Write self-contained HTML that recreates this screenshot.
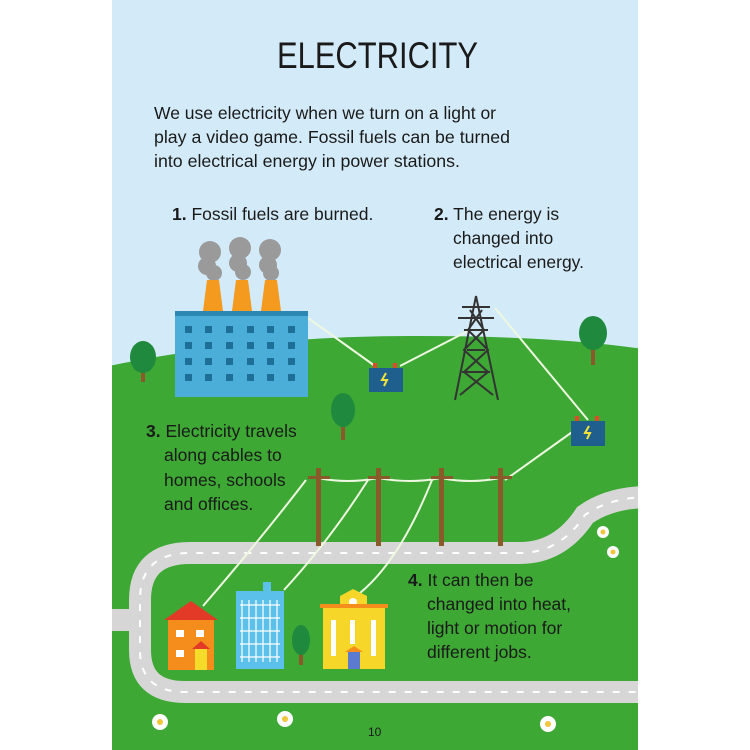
<!DOCTYPE html>
<html><head><style>
html,body{margin:0;padding:0;background:#fff;}
svg{display:block;}
text{font-family:"Liberation Sans",sans-serif;fill:#1a1a1a;}
</style></head><body>
<svg width="750" height="750" viewBox="0 0 750 750">
<defs><clipPath id="pg"><rect x="112" y="0" width="526" height="750"/></clipPath></defs>
<g clip-path="url(#pg)">
<rect x="112" y="0" width="526" height="750" fill="#d3ebf8"/>
<path d="M100 368 Q250 335 420 336 Q560 336 650 350 L650 760 L100 760Z" fill="#3da834"/>
<!-- road -->
<g fill="none" stroke="#d6d6d6" stroke-width="22">
<path d="M100 620 L140 620"/>
<path d="M650 497 Q610 497 585 515 Q560 553 520 553 L190 553 Q140 553 140 600 L140 650 Q140 692 185 692 L650 692"/>
</g>
<g fill="none" stroke="#fff" stroke-width="2" stroke-dasharray="7 9">
<path d="M650 497 Q610 497 585 515 Q560 553 520 553 L190 553 Q140 553 140 600 L140 650 Q140 692 185 692 L650 692"/>
</g>
<!-- cables -->
<g fill="none" stroke="#eef8e0" stroke-width="2">
<path d="M308 318 L375 366"/><path d="M400 366 L470 330"/>
<path d="M495 308 L588 420"/><path d="M575 430 L505 480"/>
<path d="M318 478 Q348 484 378 478 Q410 484 441 478 Q470 484 500 478"/>
<path d="M306 480 Q260 540 203 606"/><path d="M368 480 Q330 540 284 590"/><path d="M432 480 Q400 560 360 593"/>
</g>
<!-- factory -->
<g fill="#9a9a9a">
<circle cx="210" cy="252" r="11"/><circle cx="207" cy="266" r="9"/><circle cx="214" cy="273" r="8"/>
<circle cx="240" cy="248" r="11"/><circle cx="238" cy="263" r="9"/><circle cx="243" cy="272" r="8"/>
<circle cx="270" cy="250" r="11"/><circle cx="268" cy="265" r="9"/><circle cx="271" cy="273" r="8"/>
</g>
<g fill="#f49a1f"><path d="M207 280h12l4 31h-20z"/><path d="M236 280h12l4 31h-20z"/><path d="M265 280h12l4 31h-20z"/></g>
<rect x="175" y="311" width="133" height="86" fill="#4aaed9"/>
<rect x="175" y="311" width="133" height="5" fill="#2c87b3"/>
<g fill="#1e6f98">
<rect x="185" y="326" width="7" height="7"/><rect x="205" y="326" width="7" height="7"/><rect x="226" y="326" width="7" height="7"/><rect x="247" y="326" width="7" height="7"/><rect x="267" y="326" width="7" height="7"/><rect x="288" y="326" width="7" height="7"/>
<rect x="185" y="342" width="7" height="7"/><rect x="205" y="342" width="7" height="7"/><rect x="226" y="342" width="7" height="7"/><rect x="247" y="342" width="7" height="7"/><rect x="267" y="342" width="7" height="7"/><rect x="288" y="342" width="7" height="7"/>
<rect x="185" y="358" width="7" height="7"/><rect x="205" y="358" width="7" height="7"/><rect x="226" y="358" width="7" height="7"/><rect x="247" y="358" width="7" height="7"/><rect x="267" y="358" width="7" height="7"/><rect x="288" y="358" width="7" height="7"/>
<rect x="185" y="374" width="7" height="7"/><rect x="205" y="374" width="7" height="7"/><rect x="226" y="374" width="7" height="7"/><rect x="247" y="374" width="7" height="7"/><rect x="267" y="374" width="7" height="7"/><rect x="288" y="374" width="7" height="7"/>
</g>
<!-- trees -->
<g>
<rect x="141" y="360" width="4" height="22" fill="#8a5a2b"/><ellipse cx="143" cy="357" rx="13" ry="16" fill="#1f8a3e"/>
<rect x="341" y="410" width="4" height="30" fill="#8a5a2b"/><ellipse cx="343" cy="410" rx="12" ry="17" fill="#1f8a3e"/>
<rect x="591" y="335" width="4" height="30" fill="#8a5a2b"/><ellipse cx="593" cy="333" rx="14" ry="17" fill="#1f8a3e"/>
<rect x="299" y="640" width="4" height="25" fill="#8a5a2b"/><ellipse cx="301" cy="640" rx="9" ry="15" fill="#1f8a3e"/>
</g>
<!-- batteries -->
<g>
<rect x="369" y="368" width="34" height="24" fill="#1f5f8e"/><rect x="373" y="363" width="4" height="5" fill="#e04a2a"/><rect x="393" y="363" width="4" height="5" fill="#e04a2a"/>
<path d="M386 373 l-4 7 h5 l-3 6" stroke="#f3e23a" stroke-width="2" fill="none"/>
<rect x="571" y="421" width="34" height="25" fill="#1f5f8e"/><rect x="575" y="416" width="4" height="5" fill="#e04a2a"/><rect x="595" y="416" width="4" height="5" fill="#e04a2a"/>
<path d="M589 426 l-4 7 h5 l-3 6" stroke="#f3e23a" stroke-width="2" fill="none"/>
</g>
<!-- tower -->
<g stroke="#333" stroke-width="2" fill="none">
<path d="M476 296 L455 400 M476 296 L498 400"/>
<path d="M462 307h28 M458 318h36 M464 330h24"/>
<path d="M470 310 L484 330 L464 350 L488 372 L460 395 M482 310 L468 330 L488 350 L464 372 L493 395"/>
<path d="M467 350h18 M462 372h28"/>
</g>
<!-- poles -->
<g fill="#8a5a2b">
<rect x="316" y="468" width="5" height="78"/><rect x="308" y="476" width="22" height="3"/>
<rect x="376" y="468" width="5" height="78"/><rect x="368" y="476" width="22" height="3"/>
<rect x="439" y="468" width="5" height="78"/><rect x="431" y="476" width="22" height="3"/>
<rect x="498" y="468" width="5" height="78"/><rect x="490" y="476" width="22" height="3"/>
</g>
<!-- orange house -->
<rect x="168" y="618" width="46" height="52" fill="#f48d1c"/>
<path d="M164 620 L191 601 L218 620Z" fill="#e23a26"/>
<g fill="#fff"><rect x="176" y="630" width="8" height="7"/><rect x="196" y="630" width="8" height="7"/><rect x="176" y="650" width="8" height="7"/></g>
<rect x="195" y="648" width="12" height="22" fill="#f5dc2a"/><path d="M192 649 L201 641 L210 649Z" fill="#e23a26"/>
<!-- blue building -->
<rect x="236" y="591" width="48" height="78" fill="#5bc0ea"/><rect x="263" y="582" width="8" height="10" fill="#5bc0ea"/>
<g stroke="#fff" stroke-width="1.2"><path d="M242 600v62 M249 600v62 M256 600v62 M263 600v62 M270 600v62 M277 600v62 M240 605h40 M240 618h40 M240 631h40 M240 644h40 M240 657h40"/></g>
<!-- school -->
<rect x="323" y="607" width="62" height="62" fill="#f7d62a"/>
<path d="M340 607 V596 L353 589 L367 596 V607Z" fill="#f7d62a"/><circle cx="353" cy="602" r="4" fill="#fff"/>
<rect x="320" y="604" width="68" height="4" fill="#f48d1c"/>
<g fill="#fff"><rect x="331" y="620" width="5" height="36"/><rect x="350" y="620" width="5" height="24"/><rect x="371" y="620" width="5" height="36"/></g>
<rect x="348" y="652" width="12" height="17" fill="#5a7bd0"/><path d="M345 652 L354 646 L363 652Z" fill="#f48d1c"/>
<!-- flowers -->
<g fill="#fff"><circle cx="160" cy="722" r="8"/><circle cx="285" cy="719" r="8"/><circle cx="548" cy="724" r="8"/><circle cx="603" cy="532" r="6"/><circle cx="613" cy="552" r="6"/></g>
<g fill="#f0c63a"><circle cx="160" cy="722" r="3"/><circle cx="285" cy="719" r="3"/><circle cx="548" cy="724" r="3"/><circle cx="603" cy="532" r="2.5"/><circle cx="613" cy="552" r="2.5"/></g>
</g>
<!-- text -->
<text x="277" y="68" font-size="37" textLength="201" lengthAdjust="spacingAndGlyphs">ELECTRICITY</text>
<g font-size="17.5">
<text x="154" y="119" textLength="342" lengthAdjust="spacingAndGlyphs">We use electricity when we turn on a light or</text>
<text x="154" y="143" textLength="356" lengthAdjust="spacingAndGlyphs">play a video game. Fossil fuels can be turned</text>
<text x="154" y="167" textLength="306" lengthAdjust="spacingAndGlyphs">into electrical energy in power stations.</text>
<text x="172" y="220"><tspan font-weight="bold">1.</tspan> Fossil fuels are burned.</text>
<text x="434" y="220"><tspan font-weight="bold">2.</tspan> The energy is</text>
<text x="453" y="244">changed into</text>
<text x="453" y="268">electrical energy.</text>
<text x="146" y="437"><tspan font-weight="bold">3.</tspan> Electricity travels</text>
<text x="164" y="461">along cables to</text>
<text x="164" y="486">homes, schools</text>
<text x="164" y="510">and offices.</text>
<text x="408" y="586"><tspan font-weight="bold">4.</tspan> It can then be</text>
<text x="427" y="610">changed into heat,</text>
<text x="427" y="634">light or motion for</text>
<text x="427" y="658">different jobs.</text>
</g>
<text x="368" y="736" font-size="12">10</text>
</svg>
</body></html>
